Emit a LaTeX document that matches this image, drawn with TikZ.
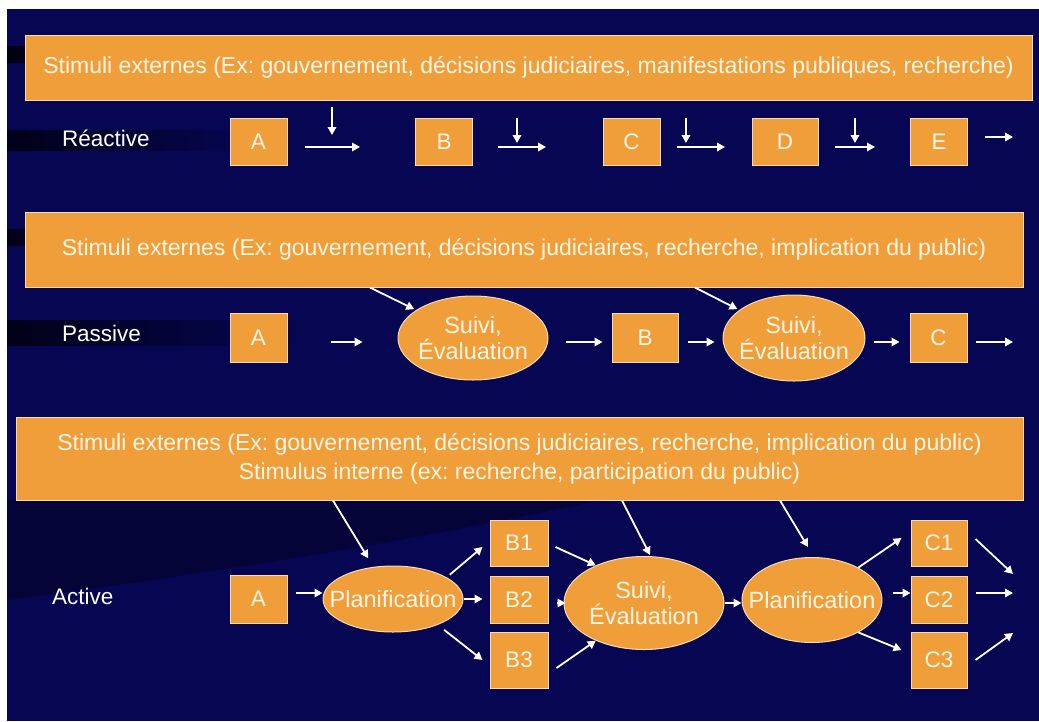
\documentclass[tikz,border=0pt]{standalone}
\usepackage{fontspec}
\setmainfont{Liberation Sans}
\frenchspacing
\usetikzlibrary{arrows.meta,shapes.geometric,calc}
\definecolor{bgblue}{RGB}{6,6,82}
\definecolor{orangeF}{RGB}{240,158,58}
\definecolor{edgeL}{RGB}{250,220,180}
\definecolor{txtW}{RGB}{255,246,230}
\begin{document}
\begin{tikzpicture}[x=1pt,y=-1pt,
  sq/.style={rectangle, fill=orangeF, draw=edgeL, line width=1pt, minimum width=57pt, minimum height=47pt, inner sep=0pt, text=txtW, font=\fontsize{22.5}{26}\selectfont},
  hdr/.style={rectangle, fill=orangeF, draw=edgeL, line width=1pt, inner sep=0pt, text=txtW, align=center, font=\fontsize{23}{29}\selectfont},
  ell/.style={ellipse, fill=orangeF, draw=edgeL, line width=1pt, inner sep=0pt},
  etxt/.style={text=txtW, font=\fontsize{23.5}{26}\selectfont, align=center, inner sep=0pt},
  lbl/.style={text=white, font=\fontsize{22.5}{27}\selectfont, anchor=west, inner sep=0pt},
  arr/.style={draw=white, line width=1.8pt, -{Triangle[length=8pt,width=8.5pt]}},
]
\useasboundingbox (0,0) rectangle (1039,721);
% background
\fill[white] (0,0) rectangle (1039,721);
\fill[bgblue] (7,9) rectangle (1039,721);
\shade[left color=black, right color=bgblue, opacity=0.8] (7,46) rectangle (120,62);
\shade[left color=black, right color=bgblue, opacity=0.7] (7,130) rectangle (250,150);
\shade[left color=black, right color=bgblue, opacity=0.7] (7,229) rectangle (120,245);
\shade[left color=black, right color=bgblue, opacity=0.7] (7,320) rectangle (300,345);
\fill[black, opacity=0.3] (7,500) -- (7,600) .. controls (200,575) and (420,540) .. (600,500) -- cycle;

% headers
\node[hdr, minimum width=1007pt, minimum height=65pt] (h1) at (528.5,67.5)
  {Stimuli externes (Ex: gouvernement, décisions judiciaires, manifestations publiques, recherche)};
\node[hdr, minimum width=998pt, minimum height=75pt] (h2) at (524,249.5)
  {Stimuli externes (Ex: gouvernement, décisions judiciaires, recherche, implication du public)};
\node[hdr, minimum width=1007pt, minimum height=83pt] (h3) at (519.5,458.5)
  {Stimuli externes (Ex: gouvernement, décisions judiciaires, recherche, implication du public)\\
   Stimulus interne (ex: recherche, participation du public)};

% row labels
\node[lbl] (lr) at (62,138) {Réactive};
\node[lbl] (lp) at (62,333) {Passive};
\node[lbl] (la) at (52,596) {Active};

% Row 1: Reactive
\node[sq] (rA) at (258.5,141.5) {A};
\node[sq] (rB) at (444,141.5) {B};
\node[sq] (rC) at (631.5,141.5) {C};
\node[sq, minimum width=66pt] (rD) at (785,141.5) {D};
\node[sq] (rE) at (939,141.5) {E};

\coordinate (ra1) at (305,147); \coordinate (ra2) at (360,147);
\coordinate (rv1) at (332,107); \coordinate (rv2) at (332,135);
\coordinate (rb1) at (498,147); \coordinate (rb2) at (546,147);
\coordinate (rw1) at (517,118); \coordinate (rw2) at (517,143);
\coordinate (rc1) at (677,147); \coordinate (rc2) at (725,147);
\coordinate (rx1) at (686,118); \coordinate (rx2) at (686,143);
\coordinate (rd1) at (835,147); \coordinate (rd2) at (875,147);
\coordinate (ry1) at (855,118); \coordinate (ry2) at (855,143);
\coordinate (re1) at (985,137); \coordinate (re2) at (1013,137);
\draw[arr] (ra1) -- (ra2); \draw[arr] (rv1) -- (rv2);
\draw[arr] (rb1) -- (rb2); \draw[arr] (rw1) -- (rw2);
\draw[arr] (rc1) -- (rc2); \draw[arr] (rx1) -- (rx2);
\draw[arr] (rd1) -- (rd2); \draw[arr] (ry1) -- (ry2);
\draw[arr] (re1) -- (re2);

% Row 2: Passive
\node[sq, minimum height=49pt] (pA) at (258.5,337.5) {A};
\node[ell, minimum width=150pt, minimum height=84pt, label={[etxt]center:{Suivi,\\Évaluation}}] (e1) at (473,338) {};
\node[sq, minimum width=66pt, minimum height=49pt] (pB) at (645,337.5) {B};
\node[ell, minimum width=142pt, minimum height=86pt, label={[etxt]center:{Suivi,\\Évaluation}}] (e2) at (794,338) {};
\node[sq, minimum height=49pt] (pC) at (938.5,337.5) {C};
\coordinate (pend) at (1013,342);

\draw[arr] ($(pA.east)+(43,4.5)$) -- ($(pA.east)+(75,4.5)$);
\draw[arr] ($(e1.east)+(17,4)$) -- ($(pB.west)+(-9,4.5)$);
\draw[arr] ($(pB.east)+(9,4.5)$) -- ($(e2.west)+(-8,4)$);
\draw[arr] ($(e2.east)+(8,4)$) -- ($(pC.west)+(-10,4.5)$);
\draw[arr] ($(pC.east)+(8,4.5)$) -- (pend);
\draw[arr, shorten >=2pt] (h2.south -| 370,0) -- (e1);
\draw[arr, shorten >=2pt] (h2.south -| 695,0) -- (e2);

% Row 3: Active
\node[sq, minimum height=48pt] (aA) at (258.5,599) {A};
\node[ell, minimum width=140pt, minimum height=66pt, label={[etxt]center:Planification}] (p1) at (393,599) {};
\node[sq, minimum width=58pt, minimum height=46pt] (b1) at (519,543) {B1};
\node[sq, minimum width=58pt, minimum height=47pt] (b2) at (519,599.5) {B2};
\node[sq, minimum width=58pt, minimum height=56pt] (b3) at (519,660) {B3};
\node[ell, minimum width=160pt, minimum height=93pt, label={[etxt]center:{Suivi,\\Évaluation}}] (sv) at (644,603) {};
\node[ell, minimum width=140pt, minimum height=85pt, label={[etxt]center:Planification}] (p2) at (812,600) {};
\node[sq, minimum width=56pt, minimum height=46pt] (c1) at (939,543) {C1};
\node[sq, minimum width=56pt, minimum height=47pt] (c2) at (939,599.5) {C2};
\node[sq, minimum width=56pt, minimum height=56pt] (c3) at (939,660) {C3};
\coordinate (o1) at (1013,574);
\coordinate (o2) at (1013,593);
\coordinate (o3) at (1013,633);

\draw[arr] ($(aA.east)+(8,-6)$) -- ($(p1.west)+(0,-6)$);
\draw[arr, shorten <=4pt] (p1.22) -- ($(b1.west)+(-7,4)$);
\draw[arr] (p1.east) -- ($(b2.west)+(-7,-0.5)$);
\draw[arr, shorten <=8pt] (p1.-30) -- ($(b3.west)+(-7,0)$);
\draw[arr] ($(b1.east)+(7,4)$) -- (sv.142);
\draw[arr] ($(b2.east)+(8,3.5)$) -- ($(sv.west)+(2,0)$);
\draw[arr] ($(b3.east)+(8,8)$) -- (sv.-142);
\draw[arr] (sv.east) -- (sv.east -| p2.west);
\draw[arr] (p2.35) -- ($(c1.west)+(-9,-5)$);
\draw[arr] ($(p2.east)+(10,-7)$) -- ($(c2.west)+(0,-6.5)$);
\draw[arr] (p2.-35) -- ($(c3.west)+(-9,-10)$);
\draw[arr] ($(c1.east)+(8,-4)$) -- (o1);
\draw[arr] ($(c2.east)+(8,-6.5)$) -- (o2);
\draw[arr] ($(c3.east)+(8,0)$) -- (o3);
\draw[arr, shorten >=10pt] (h3.south -| 333,0) -- (p1);
\draw[arr] (h3.south -| 622,0) -- ($(sv.north)+(6,-1)$);
\draw[arr] (h3.south -| 780,0) -- ($(p2.north)+(-4,-10)$);
\end{tikzpicture}
\end{document}
